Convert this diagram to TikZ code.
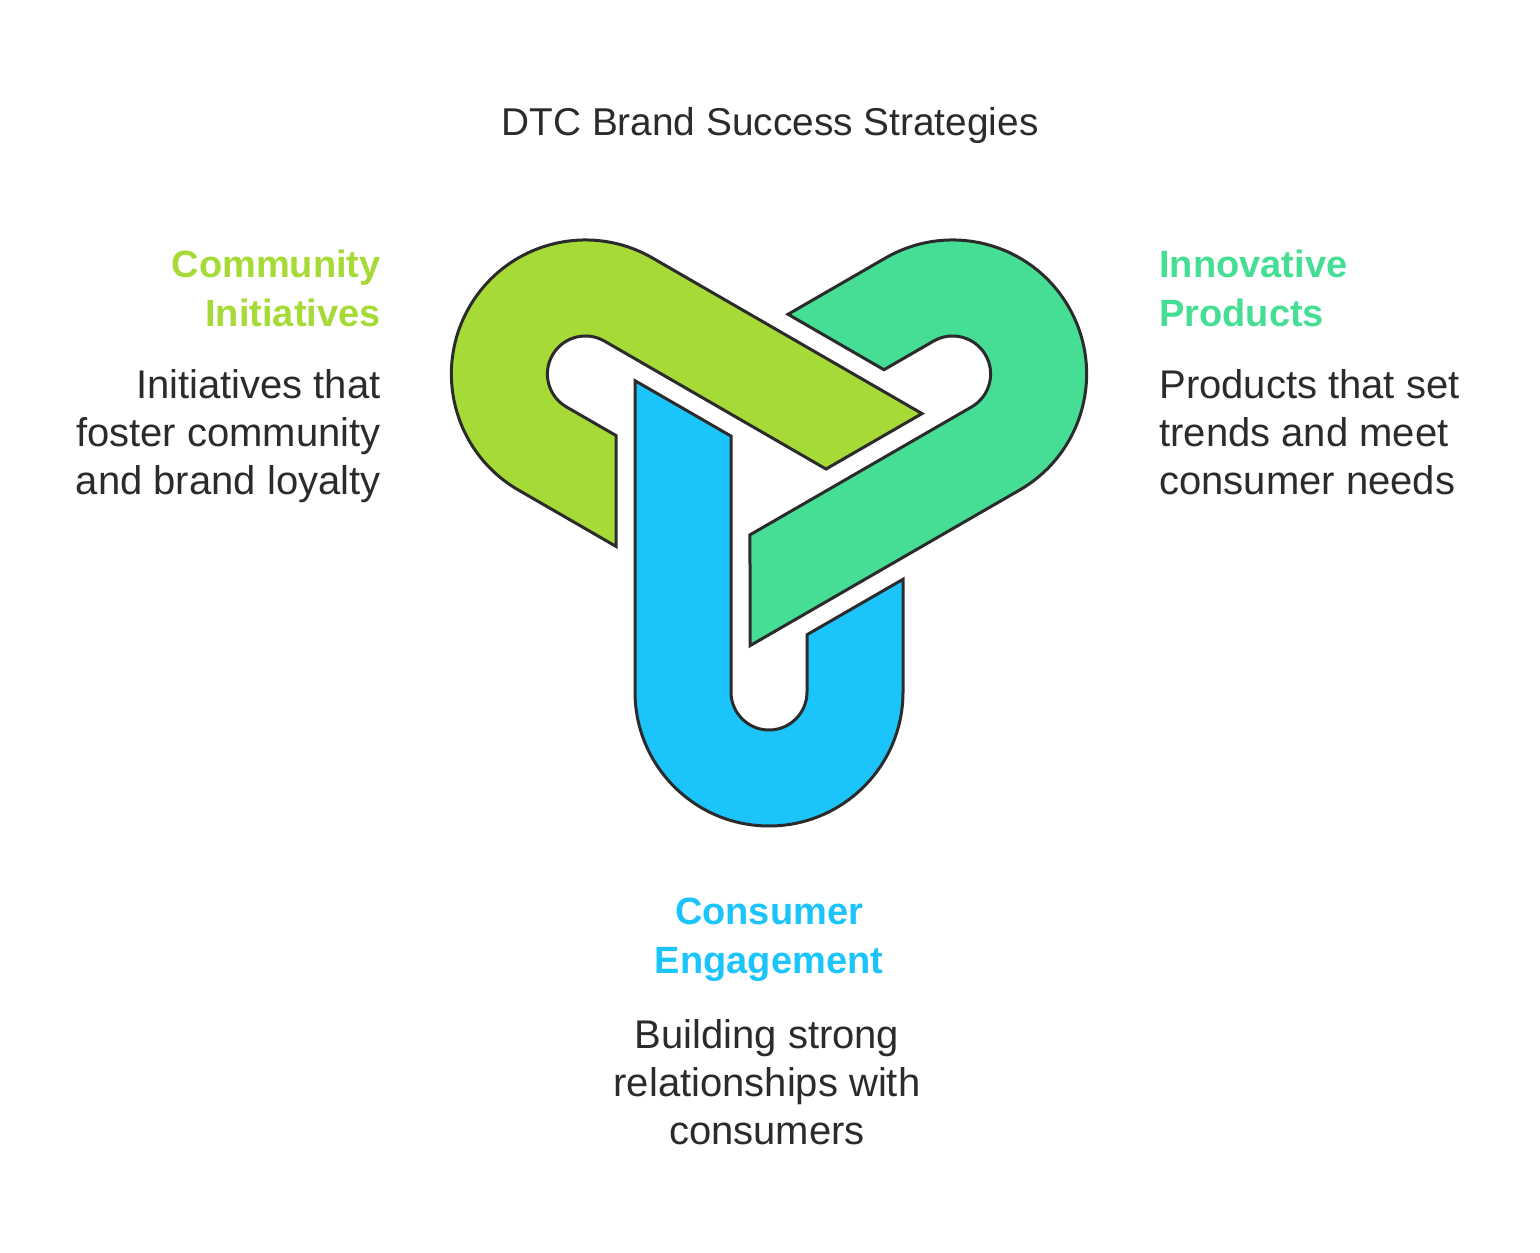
\documentclass[tikz,border=0pt]{standalone}
\usepackage{fontspec}
\setmainfont{Liberation Sans}
\usepackage{tikz}
\usetikzlibrary{positioning}
\definecolor{limegreen}{RGB}{166,218,55}
\definecolor{mintgreen}{RGB}{69,222,148}
\definecolor{skyblue}{RGB}{28,196,252}
\definecolor{inkgray}{RGB}{43,43,43}
\tikzset{
link/.style={draw=inkgray, line width=1.5pt, line join=miter, fill=#1},
heading/.style={font=\fontsize{19}{24.5}\selectfont\bfseries, text=#1, inner sep=0pt},
caption/.style={font=\fontsize{20}{24}\selectfont, text=inkgray, inner sep=0pt},
}

\begin{document}
\begin{tikzpicture}[x=0.5pt, y=0.5pt]
	\useasboundingbox (0,0) rectangle (1540,1252);
	\begin{scope}[shift={(769,772)}]
		\foreach \ang/\col in {0/skyblue, 120/mintgreen, 240/limegreen}
		{
			\draw [link=\col, rotate=\ang] (134,-99.3) -- (134,-212) arc[start angle=0, end angle=-180, radius=134] -- (-134,99.3) -- (-38,43.9) -- (-38,-212) arc[start angle=180, end angle=360, radius=38] -- (38,-154.7) -- cycle;
		}
	\end{scope}
	\node [caption, font=\fontsize{19.4}{24}\selectfont, anchor=north] (0) at (770,1145) {DTC Brand Success Strategies};
	\node [heading=limegreen, anchor=north east, align=right] (1) at (381,1002) {Community\\Initiatives};
	\node [caption, anchor=north east, align=right] (2) at (381,883) {Initiatives that\\foster community\\and brand loyalty};
	\node [heading=mintgreen, anchor=north west, align=left] (3) at (1159,1002) {Innovative\\Products};
	\node [caption, anchor=north west, align=left] (4) at (1159,883) {Products that set\\trends and meet\\consumer needs};
	\node [heading=skyblue, anchor=north, align=center] (5) at (769,354) {Consumer\\Engagement};
	\node [caption, anchor=north, align=center] (6) at (767,233) {Building strong\\relationships with\\consumers};
\end{tikzpicture}
\end{document}
